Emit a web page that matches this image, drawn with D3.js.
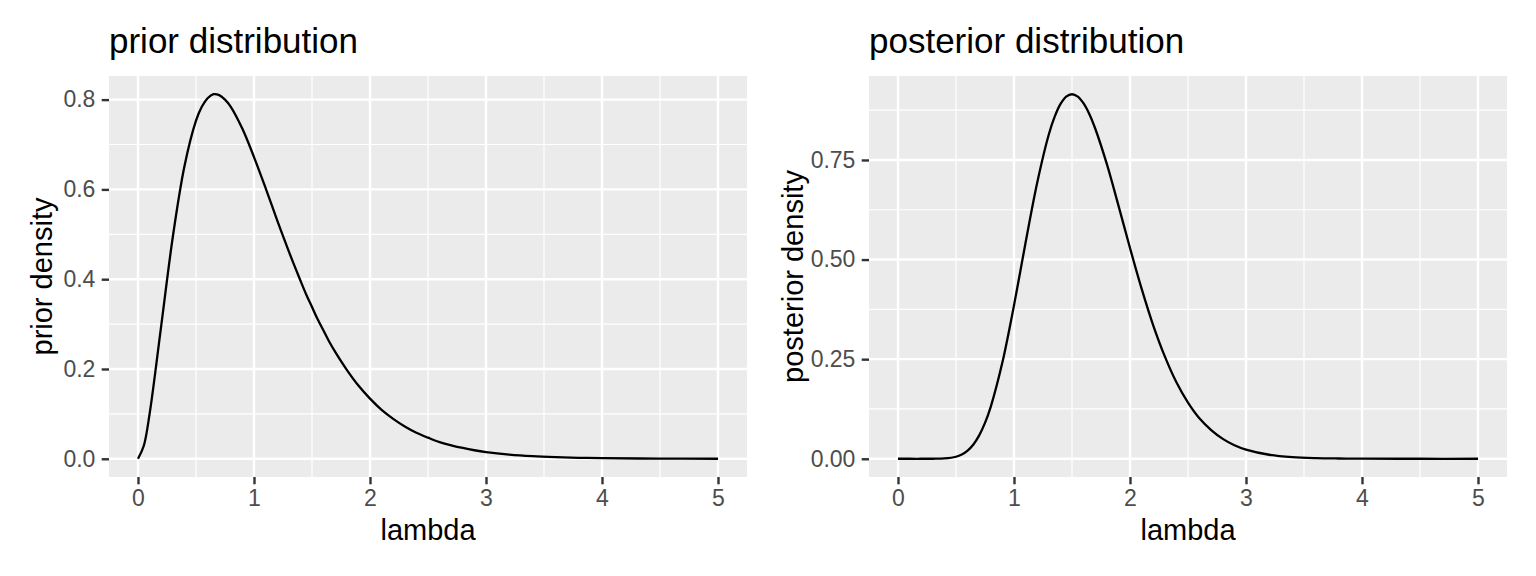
<!DOCTYPE html>
<html>
<head>
<meta charset="utf-8">
<script src="https://cdn.jsdelivr.net/npm/d3@7"></script>
<style>
  body { margin: 0; background: #fff; }
  svg { font-family: "Liberation Sans", Arial, sans-serif; }
</style>
</head>
<body>
<svg width="1536" height="576"></svg>
<script>
// values
var lambda = [0, 0.05, 0.1, 0.2, 0.3, 0.4, 0.5, 0.55, 0.6, 0.65, 0.7, 0.75, 0.8, 0.9, 1.0,
  1.1, 1.2, 1.3, 1.35, 1.4, 1.45, 1.5, 1.55, 1.6, 1.65, 1.7, 1.8, 1.9, 2.0, 2.1, 2.2, 2.3, 2.4, 2.5,
  2.6, 2.7, 2.8, 2.9, 3.0, 3.2, 3.4, 3.6, 3.8, 4.0, 4.5, 5.0];

var priorDensity = [0, 0.029, 0.100, 0.296, 0.494, 0.651, 0.753, 0.784, 0.803, 0.812, 0.810, 0.800, 0.784, 0.735, 0.672,
  0.603, 0.531, 0.462, 0.429, 0.397, 0.366, 0.338, 0.310, 0.285, 0.260, 0.238, 0.198, 0.163, 0.134, 0.109, 0.089, 0.072, 0.058, 0.047,
  0.037, 0.030, 0.024, 0.019, 0.015, 0.0094, 0.0058, 0.0036, 0.0022, 0.0013, 0.0004, 0.0001];

var posteriorDensity = [0, 0, 0, 0, 0.0001, 0.0008, 0.0051, 0.0108, 0.0206, 0.036, 0.0587, 0.090, 0.131, 0.242, 0.385,
  0.543, 0.693, 0.814, 0.858, 0.890, 0.909, 0.915, 0.909, 0.892, 0.865, 0.829, 0.740, 0.636, 0.529, 0.427, 0.335, 0.257, 0.192, 0.141,
  0.101, 0.072, 0.050, 0.034, 0.023, 0.0101, 0.0042, 0.0017, 0.0007, 0.0002, 0, 0];

var xTicks = [0, 1, 2, 3, 4, 5];
var xMinor = [0.5, 1.5, 2.5, 3.5, 4.5];
var priorTicks = [0, 0.2, 0.4, 0.6, 0.8];
var priorMinor = [0.1, 0.3, 0.5, 0.7];
var posteriorTicks = [0, 0.25, 0.5, 0.75];
var posteriorMinor = [0.125, 0.375, 0.625, 0.875];

var svg = d3.select("svg");

function panel(opt) {
  var left = opt.left, right = opt.right, top = 76, bottom = 477;

  var xr = d3.extent(lambda), xe = (xr[1] - xr[0]) * 0.05;
  var x = d3.scaleLinear().domain([xr[0] - xe, xr[1] + xe]).range([left, right]);
  var yr = d3.extent(opt.values), ye = (yr[1] - yr[0]) * 0.05;
  var y = d3.scaleLinear().domain([yr[0] - ye, yr[1] + ye]).range([bottom, top]);

  var g = svg.append("g");

  g.append("rect")
    .attr("x", left).attr("y", top)
    .attr("width", right - left).attr("height", bottom - top)
    .attr("fill", "#EBEBEB");

  // minor grid
  g.selectAll(".vminor").data(xMinor).enter().append("line")
    .attr("x1", function(d) { return x(d); }).attr("x2", function(d) { return x(d); })
    .attr("y1", top).attr("y2", bottom)
    .attr("stroke", "#fff").attr("stroke-width", 1.2);
  g.selectAll(".hminor").data(opt.minor).enter().append("line")
    .attr("y1", function(d) { return y(d); }).attr("y2", function(d) { return y(d); })
    .attr("x1", left).attr("x2", right)
    .attr("stroke", "#fff").attr("stroke-width", 1.2);

  // major grid
  g.selectAll(".vmajor").data(xTicks).enter().append("line")
    .attr("x1", function(d) { return x(d); }).attr("x2", function(d) { return x(d); })
    .attr("y1", top).attr("y2", bottom)
    .attr("stroke", "#fff").attr("stroke-width", 2.4);
  g.selectAll(".hmajor").data(opt.ticks).enter().append("line")
    .attr("y1", function(d) { return y(d); }).attr("y2", function(d) { return y(d); })
    .attr("x1", left).attr("x2", right)
    .attr("stroke", "#fff").attr("stroke-width", 2.4);

  var line = d3.line()
    .curve(d3.curveCatmullRom.alpha(0.5))
    .x(function(d, i) { return x(lambda[i]); })
    .y(function(d) { return y(d); });

  g.append("path")
    .datum(opt.values)
    .attr("d", line)
    .attr("fill", "none")
    .attr("stroke", "#000")
    .attr("stroke-width", 2.3);

  // axes
  var xa = g.append("g")
    .attr("transform", "translate(0," + bottom + ")")
    .call(d3.axisBottom(x).tickValues(xTicks).tickSize(7.3).tickPadding(5.5).tickFormat(d3.format("d")));
  var ya = g.append("g")
    .attr("transform", "translate(" + left + ",0)")
    .call(d3.axisLeft(y).tickValues(opt.ticks).tickSize(7.3).tickPadding(6.3).tickFormat(opt.fmt));
  [xa, ya].forEach(function(a) {
    a.select(".domain").remove();
    a.selectAll(".tick line").attr("stroke", "#333").attr("stroke-width", 2.4);
    a.selectAll(".tick text").attr("fill", "#4D4D4D").style("font-size", "23px");
  });

  g.append("text")
    .attr("x", (left + right) / 2).attr("y", 540)
    .attr("text-anchor", "middle")
    .style("font-size", "29px")
    .text("lambda");

  g.append("text")
    .attr("transform", "translate(" + opt.ylabX + "," + (top + bottom) / 2 + ") rotate(-90)")
    .attr("text-anchor", "middle")
    .style("font-size", "29px")
    .text(opt.ylab);

  g.append("text")
    .attr("x", left).attr("y", 53)
    .style("font-size", "35px")
    .text(opt.title);
}

panel({ left: 109, right: 747, values: priorDensity, ticks: priorTicks, minor: priorMinor,
  fmt: d3.format(".1f"), ylab: "prior density", ylabX: 52, title: "prior distribution" });
panel({ left: 869, right: 1507, values: posteriorDensity, ticks: posteriorTicks, minor: posteriorMinor,
  fmt: d3.format(".2f"), ylab: "posterior density", ylabX: 803, title: "posterior distribution" });
</script>
</body>
</html>
